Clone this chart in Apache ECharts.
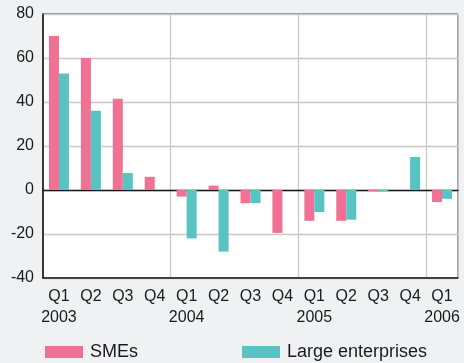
<!DOCTYPE html>
<html>
<head>
<meta charset="utf-8">
<script src="https://cdn.jsdelivr.net/npm/echarts@6/dist/echarts.min.js"></script>
<style>
  html, body { margin: 0; padding: 0; background: #f0f1f3; }
  #chart { width: 464px; height: 363px; }
</style>
</head>
<body>
<div id="chart"></div>
<script>
// Quarterly balance, per cent
const quarters = ['Q1', 'Q2', 'Q3', 'Q4', 'Q1', 'Q2', 'Q3', 'Q4', 'Q1', 'Q2', 'Q3', 'Q4', 'Q1'];
const years = ['2003', '', '', '', '2004', '', '', '', '2005', '', '', '', '2006'];
const smes = [70, 60, 41.5, 6, -3, 2, -6, -19.5, -14, -14, -0.5, 0, -5.5];
const large = [53, 36, 7.7, 0, -22, -28, -6, 0, -10, -13.5, -0.5, 15, -4];
const yTicks = { min: -40, max: 80, step: 20 };

const labels = quarters.map((q, i) => years[i] ? q + '\n' + years[i] : q);

const font = 'Liberation Sans, Arial, Helvetica, sans-serif';
const pink = '#f17194';
const teal = '#58c3c2';

const legendBase = {
  top: 343, padding: 0, itemWidth: 38, itemHeight: 12, itemGap: 8, icon: 'rect',
  textStyle: { fontSize: 18, color: '#1a1a1a', fontFamily: font, padding: [0, 0, 0, 2] }
};

const chart = echarts.init(document.getElementById('chart'));
chart.setOption({
  backgroundColor: '#f0f1f3',
  animation: false,
  textStyle: { fontFamily: font },
  grid: {
    left: 43, right: 6, top: 14, bottom: 85,
    show: true, backgroundColor: '#ffffff', borderColor: '#333333', borderWidth: 1
  },
  legend: [
    Object.assign({ data: ['SMEs'], left: 45 }, legendBase),
    Object.assign({ data: ['Large enterprises'], left: 242 }, legendBase)
  ],
  xAxis: [
    {
      type: 'category', data: labels, position: 'bottom',
      axisLine: { onZero: false, lineStyle: { color: '#1a1a1a', width: 1.5 } },
      axisTick: { inside: true, length: 5, lineStyle: { color: '#1a1a1a' } },
      axisLabel: {
        color: '#1a1a1a', fontSize: 16, lineHeight: 21, margin: 8, interval: 0,
        fontFamily: font
      },
      splitLine: {
        show: true, interval: (i) => i > 0 && i % 4 === 0,
        lineStyle: { color: '#c8c8c8', width: 1.3 }
      }
    },
    {
      type: 'category', data: labels, position: 'bottom',
      axisLine: { onZero: true, lineStyle: { color: '#1a1a1a', width: 1.3 } },
      axisTick: { inside: true, length: 5, lineStyle: { color: '#1a1a1a' } },
      axisLabel: { show: false },
      splitLine: { show: false }
    }
  ],
  yAxis: {
    type: 'value', min: yTicks.min, max: yTicks.max, interval: yTicks.step,
    axisLine: { show: true, lineStyle: { color: '#1a1a1a', width: 1.5 } },
    axisTick: { show: false },
    axisLabel: { color: '#1a1a1a', fontSize: 16, margin: 9, fontFamily: font },
    splitLine: { lineStyle: { color: '#c8c8c8', width: 1.3 } }
  },
  series: [
    {
      name: 'SMEs', type: 'bar', data: smes, barWidth: 10, barGap: '0%',
      itemStyle: { color: pink }
    },
    {
      name: 'Large enterprises', type: 'bar', data: large, barWidth: 10, barGap: '0%',
      itemStyle: { color: teal }
    }
  ]
});
</script>
</body>
</html>
